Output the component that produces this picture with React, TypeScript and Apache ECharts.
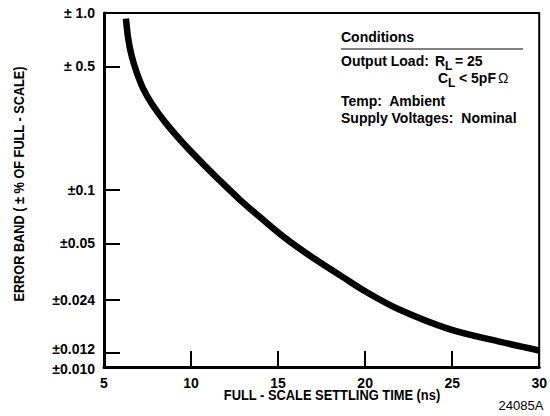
import React, { useEffect, useRef } from "react";
import * as echarts from "echarts";

// ---- data ----
const xTickValues = [5, 10, 15, 20, 25, 30];
const yTickValues = [1.0, 0.5, 0.1, 0.05, 0.024, 0.012, 0.01];
const yTickLabels = ["± 1.0", "± 0.5", "±0.1", "±0.05", "±0.024", "±0.012", "±0.010"];

// settling time (ns) vs error band (± % of full scale)
const settlingTime = [6.26, 6.39, 6.58, 6.87, 7.25, 7.8, 8.52, 9.46, 10.49, 11.58, 12.78, 14.04, 15.36, 16.79, 18.7, 20.05, 21.93, 24.79, 27.65, 30];
const errorBand = [0.93, 0.717, 0.577, 0.464, 0.374, 0.301, 0.241, 0.188, 0.147, 0.1149, 0.0886, 0.0692, 0.054, 0.0428, 0.0323, 0.0266, 0.0212, 0.01643, 0.01397, 0.0124];

const xAxisTitle = "FULL - SCALE SETTLING TIME (ns)";
const yAxisTitle = "ERROR BAND ( ± % OF FULL - SCALE)";
const figureId = "24085A";

const FONT = "'Liberation Sans', Arial, Helvetica, sans-serif";

export default function App() {
  const ref = useRef<HTMLDivElement>(null);

  useEffect(() => {
    if (!ref.current) return;
    const chart = echarts.init(ref.current, undefined, { renderer: "svg" });
    const logTicks = yTickValues.map((v) => Math.log10(v));
    const labelIndex = (v: number) => {
      let best = 0;
      let bd = Infinity;
      logTicks.forEach((t, i) => {
        const d = Math.abs(t - v);
        if (d < bd) {
          bd = d;
          best = i;
        }
      });
      return best;
    };
    const last = yTickValues.length - 1;
    const boldText = (text: string, x: number, y: number, extra: any = {}) => ({
      type: "text",
      x,
      y,
      ...extra,
      style: {
        text,
        fill: "#000",
        font: `bold 14px ${FONT}`,
        align: "left",
        verticalAlign: "middle",
        ...(extra.style || {}),
      },
    });
    const labelRich = { color: "#000", fontWeight: "bold", fontSize: 14, fontFamily: FONT };

    chart.setOption({
      animation: false,
      backgroundColor: "#fff",
      grid: {
        left: 104,
        right: 9,
        top: 13,
        bottom: 49,
        show: true,
        borderColor: "#000",
        borderWidth: 2,
        backgroundColor: "transparent",
      },
      xAxis: {
        type: "value",
        position: "bottom",
        min: 5,
        max: 30,
        interval: 5,
        axisLine: { show: true, onZero: false, lineStyle: { color: "#000", width: 3 } },
        axisTick: {
          show: true,
          inside: true,
          length: 16,
          customValues: xTickValues,
          lineStyle: { color: "#000", width: 2 },
        },
        splitLine: { show: false },
        axisLabel: {
          color: "#000",
          fontWeight: "bold",
          fontSize: 14,
          fontFamily: FONT,
          margin: 9,
          customValues: xTickValues,
        },
      },
      yAxis: {
        type: "value",
        position: "left",
        min: -2,
        max: 0,
        axisLine: { show: true, onZero: false, lineStyle: { color: "#000", width: 3 } },
        axisTick: {
          show: true,
          inside: true,
          length: 16,
          customValues: logTicks,
          lineStyle: { color: "#000", width: 2 },
        },
        splitLine: { show: false },
        axisLabel: {
          color: "#000",
          fontWeight: "bold",
          fontSize: 14,
          fontFamily: FONT,
          margin: 9,
          customValues: logTicks,
          formatter: (v: number) => {
            const i = labelIndex(v);
            if (i === last) return `{down|${yTickLabels[i]}}`;
            if (i === last - 1) return `{up|${yTickLabels[i]}}`;
            return yTickLabels[i];
          },
          rich: {
            up: { ...labelRich, padding: [0, 0, 8, 0] },
            down: { ...labelRich, padding: [4, 0, 0, 0] },
          },
        },
      },
      series: [
        {
          type: "line",
          data: settlingTime.map((t, i) => [t, Math.log10(errorBand[i])]),
          smooth: 0.35,
          showSymbol: false,
          lineStyle: { color: "#000", width: 6.5, cap: "butt" },
          silent: true,
        },
      ],
      graphic: [
        {
          type: "text",
          x: 19,
          y: 184,
          rotation: Math.PI / 2,
          scaleX: 0.91,
          style: {
            text: yAxisTitle,
            fill: "#000",
            font: `bold 14px ${FONT}`,
            align: "center",
            verticalAlign: "middle",
          },
        },
        {
          type: "text",
          x: 332,
          y: 395,
          scaleX: 0.92,
          style: {
            text: xAxisTitle,
            fill: "#000",
            font: `bold 14px ${FONT}`,
            align: "center",
            verticalAlign: "middle",
          },
        },
        {
          type: "text",
          x: 521,
          y: 405,
          style: {
            text: figureId,
            fill: "#000",
            font: `13px ${FONT}`,
            align: "center",
            verticalAlign: "middle",
          },
        },
        boldText("Conditions", 341, 37),
        {
          type: "line",
          shape: { x1: 341, y1: 49, x2: 523, y2: 49 },
          style: { stroke: "#000", lineWidth: 1 },
        },
        boldText("Output Load:", 341, 61),
        boldText("R", 435, 61),
        boldText("L", 445, 66, { style: { font: `bold 12px ${FONT}` } }),
        boldText("= 25", 455, 61),
        boldText("C", 438, 78),
        boldText("L", 448, 83, { style: { font: `bold 12px ${FONT}` } }),
        boldText("< 5pF", 459, 78),
        {
          type: "text",
          x: 498,
          y: 78,
          style: {
            text: "Ω",
            fill: "#000",
            font: `14px ${FONT}`,
            align: "left",
            verticalAlign: "middle",
          },
        },
        boldText("Temp:  Ambient", 341, 101),
        boldText("Supply Voltages:  Nominal", 341, 118),
      ],
    });
    return () => chart.dispose();
  }, []);

  return (
    <div
      ref={ref}
      style={{ position: "fixed", left: 0, top: 0, width: 550, height: 416, background: "#fff" }}
    />
  );
}
